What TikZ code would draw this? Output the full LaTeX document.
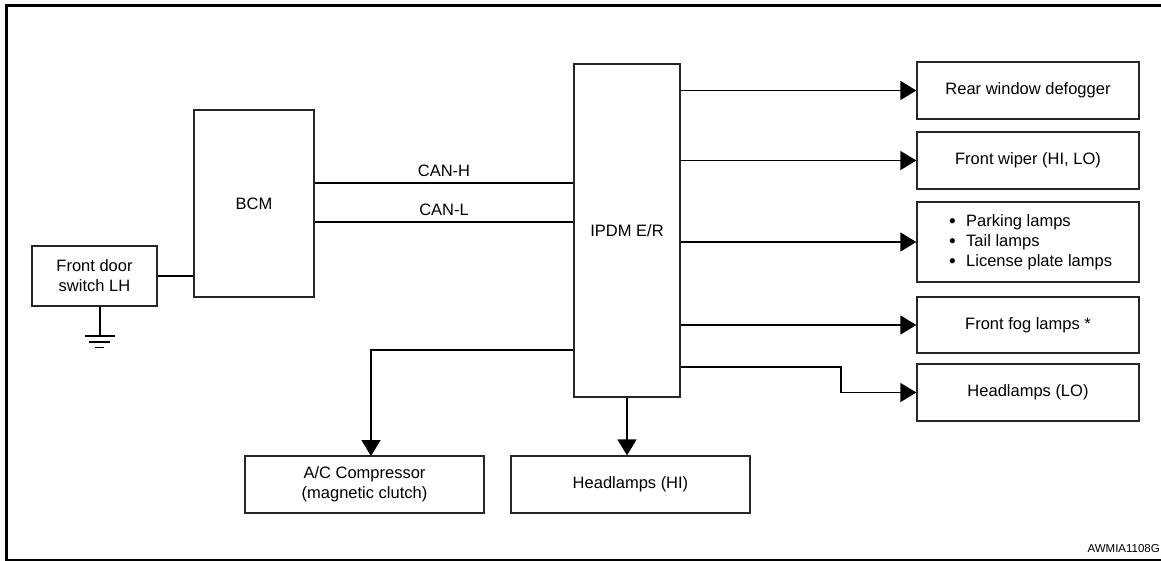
\documentclass[tikz,border=0pt]{standalone}
\usepackage{fontspec}
\setmainfont{Liberation Sans}
\usetikzlibrary{arrows.meta}
\newcommand{\mybul}{\makebox[17pt][l]{\raisebox{-1.5pt}{\fontsize{19}{20}\selectfont •}}}
\begin{document}
\begin{tikzpicture}[x=1pt,y=-1pt,
  box/.style={draw=black!85,line width=1.3pt,rectangle,inner sep=0pt,align=center,
    font=\fontsize{16.5}{20}\selectfont},
  conn/.style={draw=black,line width=1.4pt},
  arr/.style={conn,-{Triangle[length=16pt,width=19pt]}},
  lbl/.style={font=\fontsize{16.5}{20}\selectfont,inner sep=0pt}]
\clip (0,0) rectangle (1161,560);
\fill[white] (0,0) rectangle (1161,560);
\draw[line width=3pt] (6,5.5) rectangle (1170,560);
% boxes
\node[box,minimum width=125pt,minimum height=60pt] (sw) at (94.5,276) {Front door\\switch LH};
\node[box,minimum width=120pt,minimum height=187pt] (bcm) at (254,203.5) {BCM};
\node[box,minimum width=106pt,minimum height=333pt] (ipdm) at (627,230.5) {IPDM E/R};
\node[box,minimum width=222pt,minimum height=57pt] (rear) at (1028,90.5) {Rear window defogger};
\node[box,minimum width=222pt,minimum height=57pt] (wiper) at (1028,160.5) {Front wiper (HI, LO)};
\node[box,minimum width=222pt,minimum height=80pt] (park) at (1028,242) {};
\node[lbl,anchor=west,align=left] (parktxt) at (949,242) {\mybul Parking lamps\\\mybul Tail lamps\\\mybul License plate lamps};
\node[box,minimum width=222pt,minimum height=56pt] (fog) at (1028,325) {Front fog lamps *};
\node[box,minimum width=222pt,minimum height=57pt] (hlo) at (1028,392.5) {Headlamps (LO)};
\node[box,minimum width=239pt,minimum height=57pt] (ac) at (364.5,484.5) {A/C Compressor\\(magnetic clutch)};
\node[box,minimum width=239pt,minimum height=57pt] (hhi) at (630.5,484.5) {Headlamps (HI)};
% CAN lines
\draw[conn] (bcm.east |- 0,183) -- node[lbl,above=6pt] (canh) {CAN-H} (ipdm.west |- 0,183);
\draw[conn] (bcm.east |- 0,222) -- node[lbl,above=6pt] (canl) {CAN-L} (ipdm.west |- 0,222);
% switch to BCM
\draw[conn] (sw.east) -- (bcm.west |- sw.east);
% ground
\coordinate (g) at (100,336);
\draw[conn] (sw.south -| g) -- (g);
\draw[conn] (85,336) -- (115,336);
\draw[conn] (89,342) -- (110,342);
\draw[conn] (95,347.5) -- (104,347.5);
% outputs
\draw[arr] (ipdm.east |- rear.west) -- (rear.west);
\draw[arr] (ipdm.east |- wiper.west) -- (wiper.west);
\draw[arr] (ipdm.east |- park.west) -- (park.west);
\draw[arr] (ipdm.east |- fog.west) -- (fog.west);
\draw[arr] (ipdm.east |- 0,367) -- (841,367) -- (841,392.5) -- (hlo.west);
\draw[arr] (ipdm.west |- 0,350) -- (371,350) -- (371,456);
\draw[arr] (ipdm.south) -- (ipdm.south |- hhi.north);
% code
\node[anchor=east,inner sep=0pt,font=\fontsize{11.5}{13}\selectfont] (code) at (1160,549) {AWMIA1108G};
\end{tikzpicture}
\end{document}
